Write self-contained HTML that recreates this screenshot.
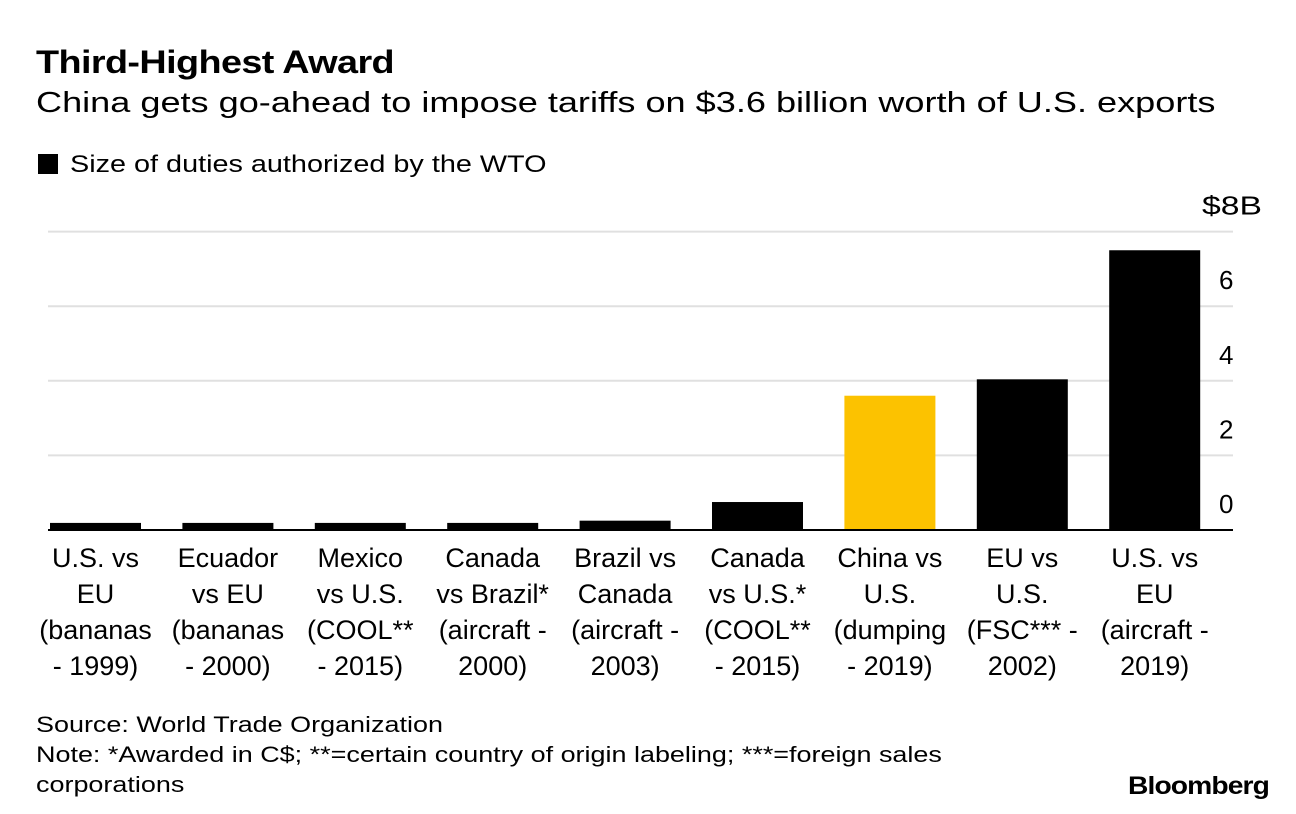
<!DOCTYPE html>
<html><head><meta charset="utf-8"><style>
body{margin:0;width:1296px;height:814px;background:#fff;font-family:"Liberation Sans",Arial,sans-serif;color:#000;position:relative;overflow:hidden}
.t{position:absolute;white-space:nowrap;transform-origin:0 0}
</style></head><body>
<div class="t" style="left:36px;top:44px;font-size:32px;font-weight:bold;letter-spacing:-0.5px;transform:scaleX(1.18)">Third-Highest Award</div>
<div class="t" style="left:36px;top:87px;font-size:29px;transform:scaleX(1.245)">China gets go-ahead to impose tariffs on $3.6 billion worth of U.S. exports</div>
<div class="t" style="left:38px;top:151px;font-size:24px"><span style="display:inline-block;width:20px;height:20px;background:#000;vertical-align:-2px;margin-right:12px"></span><span style="display:inline-block;transform:scaleX(1.2);transform-origin:0 0">Size of duties authorized by the WTO</span></div>
<svg id="chart" width="1296" height="814" style="position:absolute;left:0;top:0" xmlns="http://www.w3.org/2000/svg"></svg>
<div class="t" style="left:36px;top:710px;font-size:22px;line-height:30px;transform:scaleX(1.225)">Source: World Trade Organization<br>Note: *Awarded in C$; **=certain country of origin labeling; ***=foreign sales<br>corporations</div>
<div class="t" style="left:1128px;top:772px;font-size:25px;font-weight:bold;letter-spacing:-0.8px;transform:scaleX(1.13)">Bloomberg</div>
<script>
const categories=[["U.S. vs","EU","(bananas","- 1999)"],["Ecuador","vs EU","(bananas","- 2000)"],["Mexico","vs U.S.","(COOL**","- 2015)"],["Canada","vs Brazil*","(aircraft -","2000)"],["Brazil vs","Canada","(aircraft -","2003)"],["Canada","vs U.S.*","(COOL**","- 2015)"],["China vs","U.S.","(dumping","- 2019)"],["EU vs","U.S.","(FSC*** -","2002)"],["U.S. vs","EU","(aircraft -","2019)"]];
const values=[0.19,0.19,0.19,0.19,0.25,0.75,3.6,4.04,7.5];
const highlight=[false,false,false,false,false,false,true,false,false];
const ticks=[0,2,4,6,8];
const tickLabels=["0","2","4","6","$8B"];
const svg=document.getElementById('chart');
const NS="http://www.w3.org/2000/svg";
const y0=530,pxPer=37.3,x0=50,step=132.4,bw=91;
const y=v=>y0-v*pxPer;
const x=i=>x0+i*step;
ticks.forEach((t,i)=>{
 if(t!==0){const l=document.createElementNS(NS,'line');
 
 
 l.setAttribute('x1',48);l.setAttribute('x2',1233);l.setAttribute('y1',y(t));l.setAttribute('y2',y(t));
 l.setAttribute('stroke','#e0e0e0');l.setAttribute('stroke-width',2);svg.appendChild(l);}
 const tx=document.createElementNS(NS,'text');
 
 
 tx.setAttribute('x',t===8?1202:1219);tx.setAttribute('y',y(t)-17);
 tx.setAttribute('font-size',26);
 if(t===8){tx.setAttribute('textLength',60);tx.setAttribute('lengthAdjust','spacingAndGlyphs');}
 tx.textContent=tickLabels[i];svg.appendChild(tx);
});
values.forEach((v,i)=>{
 const r=document.createElementNS(NS,'rect');
 
 
 r.setAttribute('x',x(i));r.setAttribute('y',y(v));r.setAttribute('width',bw);r.setAttribute('height',v*pxPer);
 r.setAttribute('fill',highlight[i]?'#fcc200':'#000');svg.appendChild(r);
 categories[i].forEach((s,j)=>{
  const tx=document.createElementNS(NS,'text');
  
  
  tx.setAttribute('x',x(i)+bw/2);tx.setAttribute('y',567+j*36);
  tx.setAttribute('text-anchor','middle');tx.setAttribute('font-size',27);
  tx.textContent=s;svg.appendChild(tx);
 });
});
const base=document.createElementNS(NS,'line');


base.setAttribute('x1',48);base.setAttribute('x2',1233);base.setAttribute('y1',y0);base.setAttribute('y2',y0);
base.setAttribute('stroke','#000');base.setAttribute('stroke-width',2);svg.appendChild(base);
</script>
</body></html>
